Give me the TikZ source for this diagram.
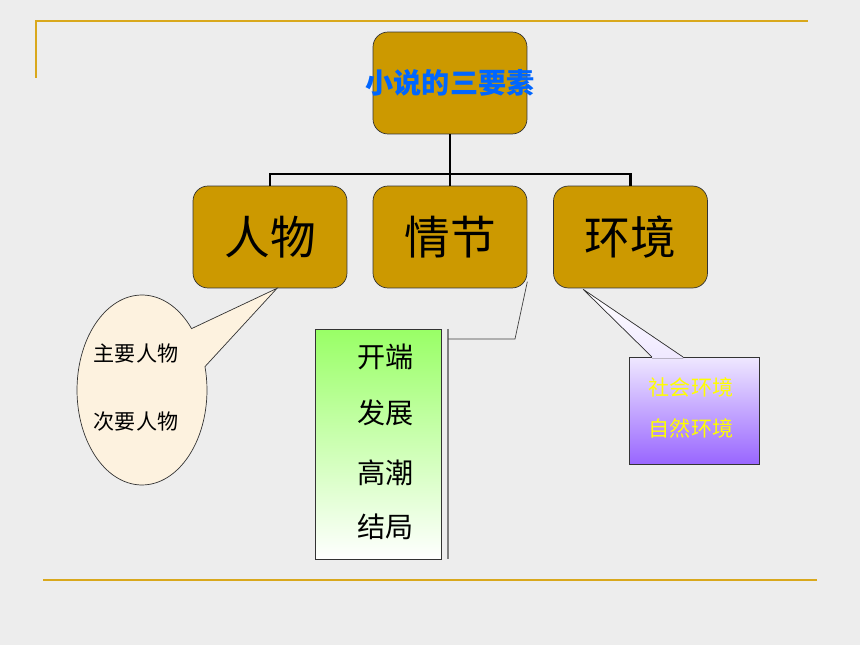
\documentclass[tikz,border=0pt]{standalone}
\usepackage{fontspec}
\newfontfamily\cjk{Noto Sans CJK SC}
\usetikzlibrary{calc, shapes.callouts}

\definecolor{sfondo}{HTML}{EDEDED}
\definecolor{oro}{HTML}{CC9900}
\definecolor{linea}{HTML}{D9A81C}
\definecolor{titolo}{HTML}{0066FF}
\definecolor{crema}{HTML}{FDF2DF}
\definecolor{verde}{HTML}{99FF66}
\definecolor{viola}{HTML}{9966FF}
\definecolor{lilla}{HTML}{EFE8FF}
\definecolor{giallo}{HTML}{FFFF00}

\begin{document}
\begin{tikzpicture}[x=0.02cm, y=-0.02cm,
		box/.style={draw=black!80, thin, fill=oro, rounded corners=0.3cm, minimum width=3.08cm, minimum height=2.04cm, inner sep=0pt},
		big/.style={font=\cjk\fontsize{26}{30}\selectfont},
		medium/.style={font=\cjk\fontsize{16}{19}\selectfont},
		small/.style={font=\cjk\fontsize{12}{14}\selectfont},
		albero/.style={line width=1.2pt}]
					%%% Sfondo
					\fill[sfondo] (0,0) rectangle (860,645);
					\draw[linea, line width=1pt] (36,78) -- (36,21) -- (808,21);
					\draw[linea, line width=1.2pt] (43,580) -- (817,580);
					
					%%% Box
					\node[box, font=\cjk\bfseries\fontsize{16}{19}\selectfont, text=titolo] (xiaoshuo) at (450,83) {\makebox[0pt]{小说的三要素}};
					\node[box, big] (renwu) at (270,237) {人物};
					\node[box, big] (qingjie) at (450,237) {情节};
					\node[box, big] (huanjing) at (630.5,237) {环境};
					
					%%% Albero
					\coordinate (fork) at (450,174);
					\draw[albero] (xiaoshuo.south) -- (fork);
					\draw[albero] (renwu.north) |- (fork) -| (huanjing.north);
					\draw[albero] (fork) -- (qingjie.north);
					
					%%% Personaggi
					\node[ellipse callout, draw=black!80, thin, fill=crema, minimum width=2.6cm, minimum height=3.8cm, inner sep=0pt,
						callout absolute pointer={($(renwu.south)+(7,0)$)}, callout pointer arc=26] (nuvola) at (142,390) {};
					\node[small] (principali) at (136,353) {主要人物};
					\node[small] (secondari) at (136,422) {次要人物};
					
					%%% Trama
					\node[draw=black!80, thin, top color=verde, bottom color=white, minimum width=2.52cm, minimum height=4.6cm, inner sep=0pt] (trama) at (378,444) {};
					\node[medium] (inizio) at (385.5,357) {开端};
					\node[medium] (sviluppo) at (385.5,413) {发展};
					\node[medium] (climax) at (385.5,473) {高潮};
					\node[medium] (fine) at (385.5,527) {结局};
					\coordinate (barra1) at (448,329);
					\coordinate (barra2) at (448,559);
					\coordinate (gomito) at (515,339);
					\draw[gray, line width=1pt] (barra1) -- (barra2);
					\draw[black!75, thin] (qingjie.330) -- (gomito) -- (gomito -| barra1);
					
					%%% Ambiente
					\node[draw=black!80, thin, top color=lilla, bottom color=viola, minimum width=2.6cm, minimum height=2.14cm, inner sep=0pt] (ambiente) at (694,410.5) {};
					\coordinate (punta) at ($(huanjing.south west)+(30,1)$);
					\coordinate (base1) at (652,357);
					\coordinate (base2) at (683,357);
					\fill[top color=white, bottom color=lilla] (base1) -- (punta) -- (base2) -- ++(0,1.5) -- ($(base1)+(0,1.5)$) -- cycle;
					\draw[black!80, thin] (base1) -- (punta) -- (base2);
					\node[small, text=giallo] (sociale) at (691,387) {社会环境};
					\node[small, text=giallo] (naturale) at (691,428) {自然环境};
				\end{tikzpicture}
\end{document}
